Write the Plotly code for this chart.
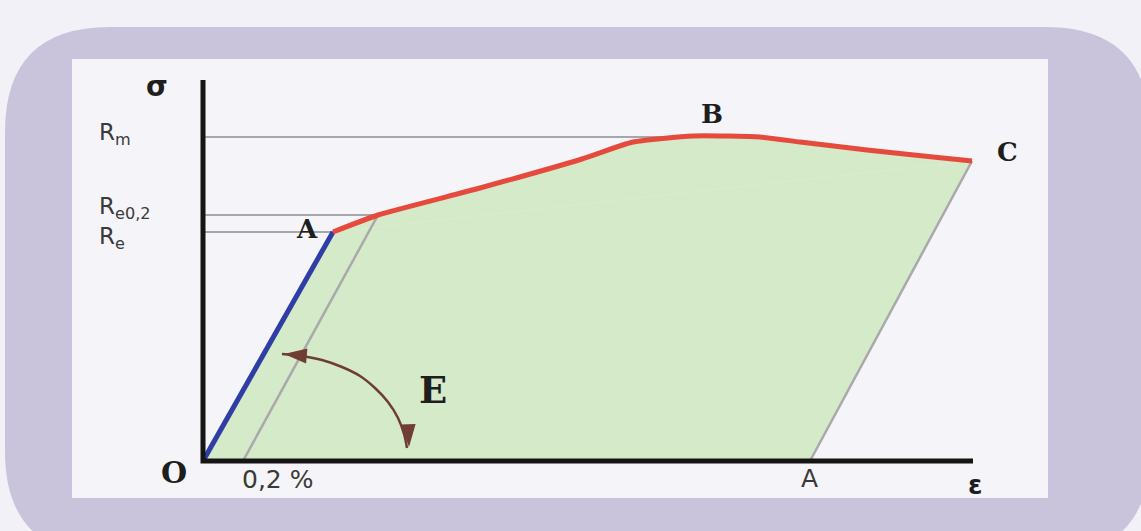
import plotly.graph_objects as go

W, H = 1141, 531

# ---- data (strain in %, stress in arbitrary units) ----
elastic_eps = [0.0, 0.65]
elastic_sig = [0, 229]

plastic_eps = [0.65, 0.875, 1.385, 1.895, 2.15, 2.45, 2.785, 2.985, 3.32, 3.65, 3.845]
plastic_sig = [229, 246, 273, 302, 319, 325, 324, 319, 311, 304, 300]

offset_eps = [0.2, 0.875]          # 0,2 % offset line
offset_sig = [0, 246]

unload_eps = [3.845, 3.035]        # unloading from C down to A
unload_sig = [300, 0]

R_levels = {"Rm": 324, "Re02": 246, "Re": 229}
R_ends = {"Rm": 2.45, "Re02": 0.875, "Re": 0.65}

axis_eps_max = 3.85
axis_sig_max = 381

# modulus arc "E"
arc_eps = [0.395, 0.495, 0.595, 0.695, 0.785, 0.86, 0.925, 0.975, 1.005, 1.02]
arc_sig = [107, 105, 101, 94, 85, 73, 59, 43, 27, 13]
arrow_eps = [0.405, 1.03]
arrow_sig = [107, 14]
arrow_angle = [-85, 178]

# axis ranges chosen so the drawing fills the page
x_range = [-203 / 200, (W - 203) / 200]
y_range = [-70, 461]

fig = go.Figure()


def px2paper(x, y):
    return x / W, 1 - y / H


def rounded_rect(x0, y0, x1, y1, r):
    def P(x, y):
        a, b = px2paper(x, y)
        return f"{a:.5f},{b:.5f}"
    return (f"M {P(x0 + r, y0)} L {P(x1 - r, y0)} Q {P(x1, y0)} {P(x1, y0 + r)} "
            f"L {P(x1, y1 - r)} Q {P(x1, y1)} {P(x1 - r, y1)} "
            f"L {P(x0 + r, y1)} Q {P(x0, y1)} {P(x0, y1 - r)} "
            f"L {P(x0, y0 + r)} Q {P(x0, y0)} {P(x0 + r, y0)} Z")


shapes = [
    dict(type="path", xref="paper", yref="paper", path=rounded_rect(5, 27, 1150, 556, 105),
         fillcolor="#cac3dc", line=dict(width=0), layer="below"),
    dict(type="rect", xref="paper", yref="paper",
         x0=72 / W, x1=1048 / W, y0=1 - 498 / H, y1=1 - 59 / H,
         fillcolor="#f5f4f9", line=dict(width=0), layer="below"),
]

green = "#d4eac9"
# green area: straight-sided quadrilateral O-A-C-A' ...
quad_eps = [elastic_eps[0], elastic_eps[1], unload_eps[0], unload_eps[1]]
quad_sig = [elastic_sig[0], elastic_sig[1], unload_sig[0], unload_sig[1]]
fig.add_trace(go.Scatter(x=quad_eps, y=quad_sig, mode="lines", fill="toself",
                         fillcolor=green, line=dict(width=0), hoverinfo="skip"))
# ... plus the cap under the smooth hardening curve
fig.add_trace(go.Scatter(x=plastic_eps, y=plastic_sig, mode="lines", fill="toself",
                         fillcolor=green, line=dict(width=0, shape="spline", smoothing=0.5),
                         hoverinfo="skip"))

# reference lines for Rm, Re0.2, Re
for k in ["Rm", "Re02", "Re"]:
    fig.add_trace(go.Scatter(x=[0, R_ends[k]], y=[R_levels[k], R_levels[k]], mode="lines",
                             line=dict(color="#8c8c8c", width=1.5), hoverinfo="skip"))

# offset and unloading lines
fig.add_trace(go.Scatter(x=offset_eps, y=offset_sig, mode="lines",
                         line=dict(color="#a9a9ab", width=2.5), hoverinfo="skip"))
fig.add_trace(go.Scatter(x=unload_eps, y=unload_sig, mode="lines",
                         line=dict(color="#a9a9ab", width=2.5), hoverinfo="skip"))

# elastic (blue) and plastic (red)
fig.add_trace(go.Scatter(x=elastic_eps, y=elastic_sig, mode="lines",
                         line=dict(color="#2f3da6", width=5), hoverinfo="skip"))
fig.add_trace(go.Scatter(x=plastic_eps, y=plastic_sig, mode="lines",
                         line=dict(color="#e54a3c", width=5, shape="spline", smoothing=0.5),
                         hoverinfo="skip"))

# axes
fig.add_trace(go.Scatter(x=[0, 0, axis_eps_max], y=[axis_sig_max, 0, 0], mode="lines",
                         line=dict(color="#151515", width=5), hoverinfo="skip"))

# E arc with arrowheads
brown = "#6f3d34"
fig.add_trace(go.Scatter(x=arc_eps, y=arc_sig, mode="lines",
                         line=dict(color=brown, width=2.5, shape="spline"), hoverinfo="skip"))
fig.add_trace(go.Scatter(x=arrow_eps, y=arrow_sig, mode="markers",
                         marker=dict(symbol="arrow", size=24, angle=arrow_angle, color=brown,
                                     line=dict(width=0)), hoverinfo="skip"))

ann = []
serif = "DejaVu Serif"
sans = "DejaVu Sans"
dark = "#1e1e1e"
gray_t = "#3a3a3a"


def lab(x, y, t, fam, size, color, bold=False, xanchor="center"):
    txt = f"<b>{t}</b>" if bold else t
    ann.append(dict(x=x, y=y, xref="x", yref="y", text=txt, showarrow=False,
                    font=dict(family=fam, size=size, color=color), xanchor=xanchor, yanchor="middle"))


lab(-0.23, 375, "σ", sans, 28, dark, bold=True)
lab(-0.53, 327, "R<sub>m</sub>", sans, 23, gray_t, xanchor="left")
lab(-0.53, 253, "R<sub>e0,2</sub>", sans, 23, gray_t, xanchor="left")
lab(-0.53, 223, "R<sub>e</sub>", sans, 23, gray_t, xanchor="left")
lab(0.52, 232, "A", serif, 26, dark, bold=True)
lab(2.545, 347, "B", serif, 26, dark, bold=True)
lab(4.02, 309, "C", serif, 26, dark, bold=True)
lab(-0.145, -11, "O", serif, 30, dark, bold=True)
lab(0.37, -18, "0,2 %", sans, 25, gray_t)
lab(3.03, -17, "A", sans, 25, gray_t)
lab(3.86, -24, "ε", sans, 26, dark, bold=True)
lab(1.15, 71, "E", serif, 37, dark, bold=True)

fig.update_layout(
    width=W, height=H, margin=dict(l=0, r=0, t=0, b=0),
    paper_bgcolor="#f2f1f7", plot_bgcolor="rgba(0,0,0,0)",
    showlegend=False, shapes=shapes, annotations=ann,
    xaxis=dict(range=x_range, visible=False, fixedrange=True),
    yaxis=dict(range=y_range, visible=False, fixedrange=True),
)

fig.write_html("out.html", config={"displayModeBar": False},
               post_script="document.body.style.margin='0px';")
